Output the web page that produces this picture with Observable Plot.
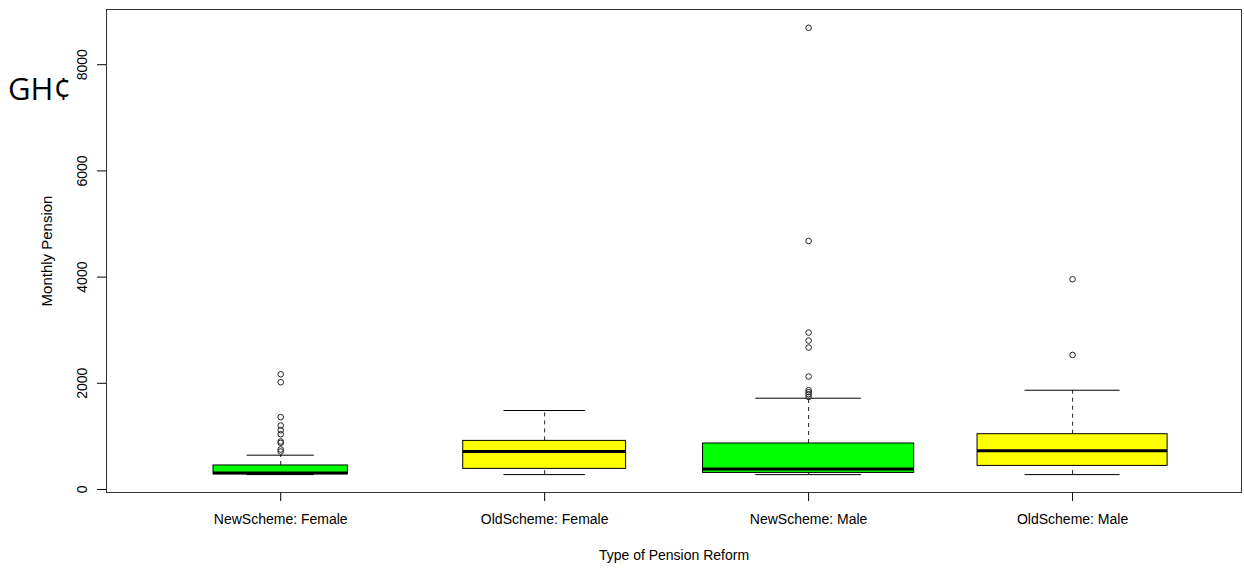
<!DOCTYPE html>
<html><head><meta charset="utf-8">
<script src="https://cdn.jsdelivr.net/npm/d3@7"></script>
<script src="https://cdn.jsdelivr.net/npm/@observablehq/plot@0.6"></script>
<style>
body{margin:0;background:#fff;}
#wrap{position:relative;width:1244px;height:570px;}
#cur{position:absolute;left:8px;top:70px;font-family:"Open Sans","Noto Sans",sans-serif;font-size:31px;color:#000;line-height:1.2;}
</style></head><body>
<div id="wrap"><div id="cur">GH¢</div></div>
<script>
// Categories (box order) and scheme of each
const categories = ["NewScheme: Female", "OldScheme: Female", "NewScheme: Male", "OldScheme: Male"];
const schemes = ["NewScheme", "OldScheme", "NewScheme", "OldScheme"];
// Five-number summaries (GH¢ per month)
const lowerWhisker = [280, 280, 280, 280];
const q1 = [288, 388, 312, 444];
const median = [308, 715, 386, 727];
const q3 = [452, 915, 866, 1041];
const upperWhisker = [646, 1487, 1719, 1869];
// Estimated relative group sizes (box widths ~ sqrt(n), varwidth)
const sampleSize = [64, 94, 158, 128];
// Outliers per group
const outliersNewFemale = [2170, 2020, 1363, 1205, 1116, 1041, 904, 877, 753, 715];
const outliersOldFemale = [];
const outliersNewMale = [8696, 4680, 2955, 2805, 2673, 2127, 1869, 1832, 1794, 1743];
const outliersOldMale = [3959, 2534];
const yTicks = [0, 2000, 4000, 6000, 8000];
const schemeColors = ["#00ff00", "#ffff00"];

const nMax = d3.max(sampleSize);
const rows = categories.map((c, i) => ({
  category: c, pos: i + 1, scheme: schemes[i],
  lo: lowerWhisker[i], q1: q1[i], med: median[i], q3: q3[i], hi: upperWhisker[i],
  w: 0.8 * Math.sqrt(sampleSize[i] / nMax)
}));
const outRows = [outliersNewFemale, outliersOldFemale, outliersNewMale, outliersOldMale]
  .flatMap((arr, i) => arr.map(v => ({pos: i + 1, value: v})));

const chart = Plot.plot({
  width: 1244, height: 570,
  marginLeft: 106, marginRight: 3, marginTop: 9, marginBottom: 78,
  style: {fontFamily: "'Liberation Sans', Arial, sans-serif", fontSize: "14px", color: "#000", background: "#fff"},
  x: {domain: [0.34, 4.64], axis: null},
  y: {domain: [-57, 9040], axis: null},
  color: {domain: ["NewScheme", "OldScheme"], range: schemeColors},
  marks: [
    Plot.ruleX(rows, {x: "pos", y1: "q3", y2: "hi", stroke: "#222", strokeDasharray: "4,4"}),
    Plot.ruleX(rows, {x: "pos", y1: "lo", y2: "q1", stroke: "#222", strokeDasharray: "4,4"}),
    Plot.ruleY(rows, {y: "hi", x1: d => d.pos - d.w / 4, x2: d => d.pos + d.w / 4, stroke: "#000"}),
    Plot.ruleY(rows, {y: "lo", x1: d => d.pos - d.w / 4, x2: d => d.pos + d.w / 4, stroke: "#000"}),
    Plot.rect(rows, {x1: d => d.pos - d.w / 2, x2: d => d.pos + d.w / 2, y1: "q1", y2: "q3", fill: "scheme", stroke: "#000", strokeWidth: 1}),
    Plot.ruleY(rows, {y: "med", x1: d => d.pos - d.w / 2, x2: d => d.pos + d.w / 2, stroke: "#000", strokeWidth: 3}),
    Plot.dot(outRows, {x: "pos", y: "value", r: 2.8, stroke: "#222", fill: "none", strokeWidth: 1}),
    Plot.axisY({ticks: yTicks, tickSize: 9, tickRotate: -90, tickPadding: 11, tickFormat: d => String(d), label: null}),
    Plot.axisX({ticks: rows.map(r => r.pos), tickSize: 9, tickPadding: 13, tickFormat: p => categories[p - 1], label: null}),
    Plot.text(["Monthly Pension"], {frameAnchor: "left", dx: -59, rotate: -90, textAnchor: "middle", text: d => d, fontSize: 15}),
    Plot.text(["Type of Pension Reform"], {frameAnchor: "bottom", dy: 67, textAnchor: "middle", text: d => d, fontSize: 14}),
    Plot.frame({stroke: "#333"})
  ]
});
document.getElementById("wrap").prepend(chart);
</script>
</body></html>
